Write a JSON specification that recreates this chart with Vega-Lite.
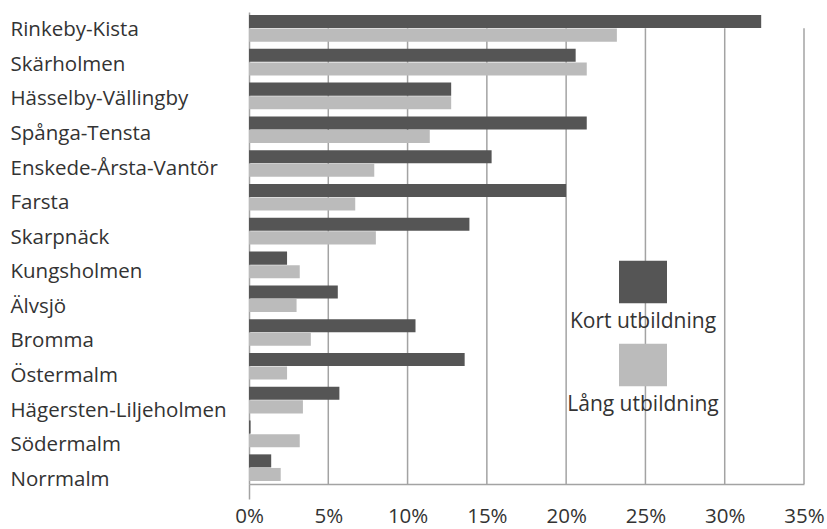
{
  "$schema": "https://vega.github.io/schema/vega-lite/v6.json",
  "width": 555,
  "height": 472,
  "autosize": "none",
  "padding": {"left": 249, "top": 12, "right": 23, "bottom": 45},
  "background": "white",
  "config": {"view": {"stroke": null}, "font": "Open Sans"},
  "datasets": {
    "grid": [{"v": 5}, {"v": 10}, {"v": 15}, {"v": 20}, {"v": 25}, {"v": 30}, {"v": 35}],
    "bars": [
      {"Stadsdel": "Rinkeby-Kista", "Typ": "Kort utbildning", "Andel": 32.3},
      {"Stadsdel": "Rinkeby-Kista", "Typ": "Lång utbildning", "Andel": 23.2},
      {"Stadsdel": "Skärholmen", "Typ": "Kort utbildning", "Andel": 20.6},
      {"Stadsdel": "Skärholmen", "Typ": "Lång utbildning", "Andel": 21.3},
      {"Stadsdel": "Hässelby-Vällingby", "Typ": "Kort utbildning", "Andel": 12.75},
      {"Stadsdel": "Hässelby-Vällingby", "Typ": "Lång utbildning", "Andel": 12.75},
      {"Stadsdel": "Spånga-Tensta", "Typ": "Kort utbildning", "Andel": 21.3},
      {"Stadsdel": "Spånga-Tensta", "Typ": "Lång utbildning", "Andel": 11.4},
      {"Stadsdel": "Enskede-Årsta-Vantör", "Typ": "Kort utbildning", "Andel": 15.3},
      {"Stadsdel": "Enskede-Årsta-Vantör", "Typ": "Lång utbildning", "Andel": 7.9},
      {"Stadsdel": "Farsta", "Typ": "Kort utbildning", "Andel": 20.0},
      {"Stadsdel": "Farsta", "Typ": "Lång utbildning", "Andel": 6.7},
      {"Stadsdel": "Skarpnäck", "Typ": "Kort utbildning", "Andel": 13.9},
      {"Stadsdel": "Skarpnäck", "Typ": "Lång utbildning", "Andel": 8.0},
      {"Stadsdel": "Kungsholmen", "Typ": "Kort utbildning", "Andel": 2.4},
      {"Stadsdel": "Kungsholmen", "Typ": "Lång utbildning", "Andel": 3.2},
      {"Stadsdel": "Älvsjö", "Typ": "Kort utbildning", "Andel": 5.6},
      {"Stadsdel": "Älvsjö", "Typ": "Lång utbildning", "Andel": 3.0},
      {"Stadsdel": "Bromma", "Typ": "Kort utbildning", "Andel": 10.5},
      {"Stadsdel": "Bromma", "Typ": "Lång utbildning", "Andel": 3.9},
      {"Stadsdel": "Östermalm", "Typ": "Kort utbildning", "Andel": 13.6},
      {"Stadsdel": "Östermalm", "Typ": "Lång utbildning", "Andel": 2.4},
      {"Stadsdel": "Hägersten-Liljeholmen", "Typ": "Kort utbildning", "Andel": 5.7},
      {"Stadsdel": "Hägersten-Liljeholmen", "Typ": "Lång utbildning", "Andel": 3.4},
      {"Stadsdel": "Södermalm", "Typ": "Kort utbildning", "Andel": 0.1},
      {"Stadsdel": "Södermalm", "Typ": "Lång utbildning", "Andel": 3.2},
      {"Stadsdel": "Norrmalm", "Typ": "Kort utbildning", "Andel": 1.4},
      {"Stadsdel": "Norrmalm", "Typ": "Lång utbildning", "Andel": 2.0}
    ]
  },
  "layer": [
    {
      "data": {"name": "grid"},
      "mark": {"type": "rule", "color": "#a3a3a3", "strokeWidth": 1.5},
      "encoding": {
        "x": {"field": "v", "type": "quantitative", "scale": {"domain": [0, 35]}},
        "y": {"datum": "Rinkeby-Kista", "type": "nominal", "bandPosition": 0.5},
        "y2": {"value": "height"}
      }
    },
    {
      "data": {"name": "bars"},
      "mark": {"type": "bar"},
      "encoding": {
        "y": {
          "field": "Stadsdel",
          "type": "nominal",
          "sort": null,
          "scale": {"paddingInner": 0.212, "paddingOuter": 0.089},
          "axis": {
            "title": null,
            "domain": true,
            "domainColor": "#a3a3a3",
            "domainWidth": 1.5,
            "ticks": false,
            "tickSize": 0,
            "labelAlign": "left",
            "labelPadding": 239,
            "labelOffset": {"expr": "2 + datum.index * 10"},
            "labelFontSize": 20.5,
            "labelColor": "#333333",
            "labelLimit": 300
          }
        },
        "yOffset": {
          "field": "Typ",
          "type": "nominal",
          "sort": ["Kort utbildning", "Lång utbildning"],
          "scale": {"paddingInner": 0.04}
        },
        "x": {
          "field": "Andel",
          "type": "quantitative",
          "scale": {"domain": [0, 35]},
          "axis": {
            "title": null,
            "values": [0, 5, 10, 15, 20, 25, 30, 35],
            "labelExpr": "datum.value + '%'",
            "grid": false,
            "domain": true,
            "domainColor": "#a3a3a3",
            "domainWidth": 1.5,
            "ticks": true,
            "tickSize": 15,
            "tickWidth": 1.5,
            "tickColor": "#a3a3a3",
            "tickOpacity": {"condition": {"test": "datum.value === 0", "value": 1}, "value": 0},
            "labelFontSize": 20.5,
            "labelColor": "#333333",
            "labelPadding": 7,
            "labelFlush": false
          }
        },
        "color": {
          "field": "Typ",
          "type": "nominal",
          "scale": {"domain": ["Kort utbildning", "Lång utbildning"], "range": ["#555555", "#bbbbbb"]},
          "legend": {
            "title": null,
            "orient": "none",
            "legendX": 370,
            "legendY": 246,
            "direction": "vertical",
            "padding": 0,
            "symbolType": "M-1,-0.89H1V0.89H-1Z",
            "symbolSize": 2304,
            "symbolStrokeWidth": 0,
            "symbolOpacity": 1,
            "labelAlign": "center",
            "labelOffset": -24,
            "labelFontSize": 21,
            "labelColor": "#333333",
            "rowPadding": 9,
            "encode": {"labels": {"update": {"dy": {"value": 40}}}}
          }
        }
      }
    }
  ]
}
